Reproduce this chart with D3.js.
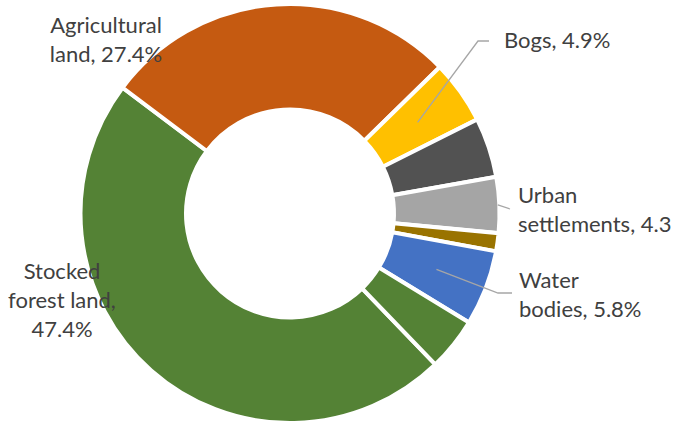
<!DOCTYPE html>
<html>
<head>
<meta charset="utf-8">
<script src="https://cdn.jsdelivr.net/npm/d3@7"></script>
<style>
  body { margin: 0; background: #fff; }
  svg { display: block; }
  text { font-family: Lato, "Open Sans", sans-serif; fill: #404040; }
</style>
</head>
<body>
<script>
// categories and shares (%) in drawing order, clockwise
var categories = ["Stocked forest land", "Agricultural land", "Bogs", "Other land", "Urban settlements", "Roads", "Water bodies", "Unstocked forest land"]
var shares = [47.4, 27.4, 4.9, 4.6, 4.3, 1.4, 5.8, 4.1]
var colors = ["#548235", "#C55A11", "#FFC000", "#525252", "#A5A5A5", "#997300", "#4472C4", "#548235"]

// label texts (visible ones only)
var labelTexts = {
    "Stocked forest land": ["Stocked", "forest land,", "47.4%"],
    "Agricultural land": ["Agricultural", "land, 27.4%"],
    "Bogs": ["Bogs, 4.9%"],
    "Urban settlements": ["Urban", "settlements, 4.3"],
    "Water bodies": ["Water", "bodies, 5.8%"]
}

var width = 677
var height = 422
var cx = 290, cy = 213.5
var outerR = 209.5
var innerR = 104

var svg = d3.select("body")
    .append("svg")
    .attr("width", width)
    .attr("height", height)

var g = svg.append("g")
    .attr("transform", "translate(" + cx + "," + cy + ")")

// first slice starts at about 136 degrees (from 12 o'clock)
var start = 136.1 * Math.PI / 180
var pie = d3.pie()
    .sort(null)
    .value(d => d.value)
    .startAngle(start)
    .endAngle(start + 2 * Math.PI)

var datos = categories.map((c, i) => ({ name: c, value: shares[i], color: colors[i] }))
var arcs = pie(datos)

var arc = d3.arc()
    .innerRadius(innerR)
    .outerRadius(outerR)

g.selectAll("path")
    .data(arcs)
    .enter()
    .append("path")
    .attr("d", arc)
    .attr("fill", d => d.data.color)
    .attr("stroke", "#fff")
    .attr("stroke-width", 4)

// label placement (absolute page coords) and leader lines
var lineH = 29
var labelLayout = {
    "Stocked forest land": { x: 62, y: 279, anchor: "middle" },
    "Agricultural land": { x: 106, y: 33, anchor: "middle" },
    "Bogs": { x: 504, y: 48, anchor: "start", leader: "centroid", bend: [478, 41], end: [489, 41] },
    "Urban settlements": { x: 518, y: 203, anchor: "start", leader: "outer", end: [510, 209] },
    "Water bodies": { x: 519, y: 288, anchor: "start", leader: "centroid", bend: [498, 293], end: [512, 293] }
}

var centroidArc = d3.arc().innerRadius(innerR).outerRadius(outerR)

arcs.forEach(function(a) {
    var lay = labelLayout[a.data.name]
    if (!lay) return
    if (lay.leader) {
        var p
        if (lay.leader == "centroid") {
            var c = centroidArc.centroid(a)
            p = [cx + c[0], cy + c[1]]
        } else {
            var mid = (a.startAngle + a.endAngle) / 2
            p = [cx + Math.sin(mid) * (outerR - 1.5), cy - Math.cos(mid) * (outerR - 1.5)]
        }
        var pts = [p]
        if (lay.bend) pts.push(lay.bend)
        pts.push(lay.end)
        svg.append("path")
            .attr("d", d3.line()(pts))
            .attr("fill", "none")
            .attr("stroke", "#A6A6A6")
            .attr("stroke-width", 1.3)
    }
    var t = svg.append("text")
        .attr("x", lay.x)
        .attr("y", lay.y)
        .attr("text-anchor", lay.anchor)
        .style("font-size", "22px")
    labelTexts[a.data.name].forEach(function(line, i) {
        t.append("tspan")
            .attr("x", lay.x)
            .attr("y", lay.y + i * lineH)
            .text(line)
    })
})
</script>
</body>
</html>
